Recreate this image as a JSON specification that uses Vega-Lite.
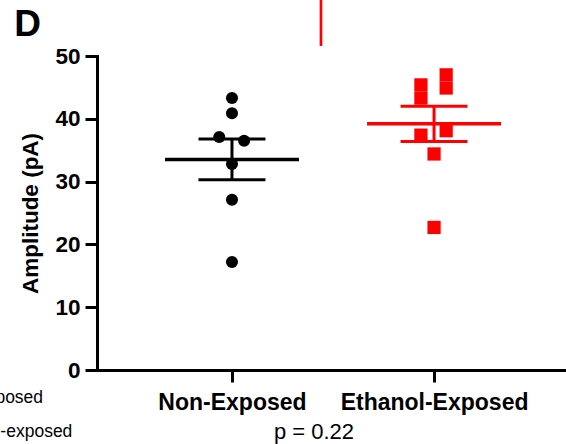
{
  "$schema": "https://vega.github.io/schema/vega-lite/v6.json",
  "width": 469,
  "height": 314,
  "autosize": {"type": "none"},
  "padding": {"left": 97, "top": 56, "right": 0, "bottom": 74},
  "background": "white",
  "config": {
    "view": {"stroke": null},
    "font": "Liberation Sans",
    "axis": {"grid": false, "domainColor": "black", "tickColor": "black", "labelColor": "black", "titleColor": "black", "domainWidth": 3, "tickWidth": 3, "domainCap": "square", "tickSize": 12}
  },
  "datasets": {
    "points": [
      {"group": "Non-Exposed", "x": 1.0, "y": 43.3},
      {"group": "Non-Exposed", "x": 1.0, "y": 40.9},
      {"group": "Non-Exposed", "x": 0.937, "y": 37.1},
      {"group": "Non-Exposed", "x": 1.06, "y": 36.5},
      {"group": "Non-Exposed", "x": 1.0, "y": 32.8},
      {"group": "Non-Exposed", "x": 1.0, "y": 27.1},
      {"group": "Non-Exposed", "x": 1.0, "y": 17.2},
      {"group": "Ethanol-Exposed", "x": 2.06, "y": 47.0},
      {"group": "Ethanol-Exposed", "x": 2.06, "y": 44.9},
      {"group": "Ethanol-Exposed", "x": 1.935, "y": 45.4},
      {"group": "Ethanol-Exposed", "x": 1.935, "y": 43.3},
      {"group": "Ethanol-Exposed", "x": 1.935, "y": 37.4},
      {"group": "Ethanol-Exposed", "x": 2.06, "y": 38.1},
      {"group": "Ethanol-Exposed", "x": 2.0, "y": 34.4},
      {"group": "Ethanol-Exposed", "x": 2.0, "y": 22.7}
    ],
    "summary": [
      {"group": "Non-Exposed", "x": 1.0, "mean": 33.5, "lo": 30.3, "hi": 36.8},
      {"group": "Ethanol-Exposed", "x": 2.0, "mean": 39.2, "lo": 36.4, "hi": 42.0}
    ],
    "edge": [
      {"x": 1.4405, "y": 51.6, "y2": 59.5}
    ],
    "legendText": [
      {"label": "Non-exposed", "x": -0.45, "y": -5.3},
      {"label": "Ethanol-exposed", "x": -0.44, "y": -10.7}
    ],
    "panel": [
      {"label": "D", "x": -0.077, "y": 53.2}
    ]
  },
  "layer": [
    {
      "data": {"name": "points"},
      "transform": [{"filter": "datum.group == 'Non-Exposed'"}],
      "mark": {"type": "point", "shape": "circle", "filled": true, "opacity": 1, "size": 145},
      "encoding": {
        "x": {"field": "x", "type": "quantitative", "scale": {"domain": [0.332, 2.653], "nice": false, "zero": false},
          "axis": {"values": [1, 2], "labelExpr": "datum.value == 1 ? 'Non-Exposed' : 'Ethanol-Exposed'", "labelFontSize": 23, "labelFontWeight": "bold", "labelPadding": 9, "labelFlush": false, "labelOverlap": false, "labelLimit": 0,
            "title": "p = 0.22", "titleFontSize": 22, "titleFontWeight": "normal", "titleX": 216.5, "titleY": 68, "titleBaseline": "alphabetic", "titleAlign": "center", "titleAnchor": null}},
        "y": {"field": "y", "type": "quantitative", "scale": {"domain": [0, 50], "nice": false},
          "axis": {"values": [0, 10, 20, 30, 40, 50], "labelFontSize": 22.5, "labelFontWeight": "bold", "labelPadding": 5, "title": "Amplitude (pA)", "titleFontSize": 22.5, "titleFontWeight": "bold", "titlePadding": 12}},
        "color": {"field": "group", "type": "nominal", "scale": {"domain": ["Non-Exposed", "Ethanol-Exposed"], "range": ["#000000", "#ff0000"]}, "legend": null}
      }
    },
    {
      "data": {"name": "points"},
      "transform": [{"filter": "datum.group == 'Ethanol-Exposed'"}],
      "mark": {"type": "point", "shape": "square", "filled": true, "opacity": 1, "size": 175},
      "encoding": {
        "x": {"field": "x", "type": "quantitative"},
        "y": {"field": "y", "type": "quantitative"},
        "color": {"field": "group", "type": "nominal", "legend": null}
      }
    },
    {
      "data": {"name": "summary"},
      "mark": {"type": "tick", "orient": "horizontal", "size": 134, "thickness": 3.5, "opacity": 1},
      "encoding": {
        "x": {"field": "x", "type": "quantitative"},
        "y": {"field": "mean", "type": "quantitative"},
        "color": {"field": "group", "type": "nominal", "legend": null}
      }
    },
    {
      "data": {"name": "summary"},
      "mark": {"type": "tick", "orient": "horizontal", "size": 67, "thickness": 3, "opacity": 1},
      "encoding": {
        "x": {"field": "x", "type": "quantitative"},
        "y": {"field": "lo", "type": "quantitative"},
        "color": {"field": "group", "type": "nominal", "legend": null}
      }
    },
    {
      "data": {"name": "summary"},
      "mark": {"type": "tick", "orient": "horizontal", "size": 67, "thickness": 3, "opacity": 1},
      "encoding": {
        "x": {"field": "x", "type": "quantitative"},
        "y": {"field": "hi", "type": "quantitative"},
        "color": {"field": "group", "type": "nominal", "legend": null}
      }
    },
    {
      "data": {"name": "summary"},
      "mark": {"type": "rule", "strokeWidth": 3},
      "encoding": {
        "x": {"field": "x", "type": "quantitative"},
        "y": {"field": "lo", "type": "quantitative"},
        "y2": {"field": "hi"},
        "color": {"field": "group", "type": "nominal", "legend": null}
      }
    },
    {
      "data": {"name": "edge"},
      "mark": {"type": "rule", "strokeWidth": 2.7, "color": "#ff0000"},
      "encoding": {
        "x": {"field": "x", "type": "quantitative"},
        "y": {"field": "y", "type": "quantitative"},
        "y2": {"field": "y2"}
      }
    },
    {
      "data": {"name": "legendText"},
      "mark": {"type": "text", "align": "left", "baseline": "alphabetic", "fontSize": 17.5, "color": "black"},
      "encoding": {
        "x": {"field": "x", "type": "quantitative"},
        "y": {"field": "y", "type": "quantitative"},
        "text": {"field": "label"}
      }
    },
    {
      "data": {"name": "panel"},
      "mark": {"type": "text", "align": "left", "baseline": "alphabetic", "fontSize": 37, "fontWeight": "bold", "color": "black"},
      "encoding": {
        "x": {"field": "x", "type": "quantitative"},
        "y": {"field": "y", "type": "quantitative"},
        "text": {"field": "label"}
      }
    }
  ]
}
